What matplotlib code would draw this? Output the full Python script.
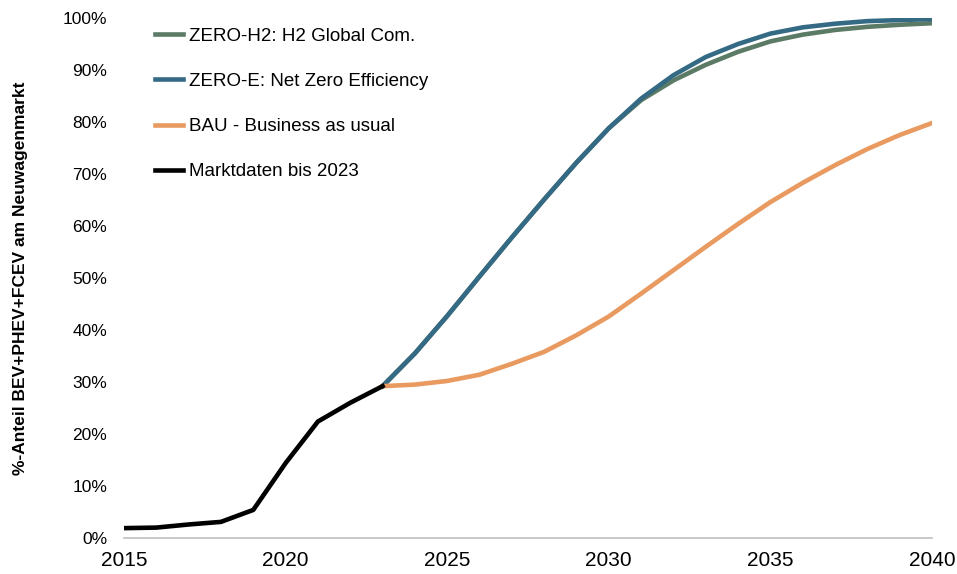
import matplotlib.pyplot as plt
from matplotlib.ticker import PercentFormatter

plt.rcParams['font.family'] = ['Liberation Sans', 'DejaVu Sans']

# Marktdaten (historisch)
years_hist = list(range(2015, 2024))
share_hist = [0.019, 0.020, 0.026, 0.031, 0.054, 0.144, 0.224, 0.260, 0.292]

# Szenarien ab 2023
years_scen = list(range(2023, 2041))
share_zero_e = [0.292, 0.355, 0.427, 0.503, 0.578, 0.651, 0.722, 0.788, 0.845,
                0.890, 0.925, 0.950, 0.970, 0.982, 0.989, 0.994, 0.996, 0.998]
share_zero_h2 = [0.292, 0.355, 0.427, 0.503, 0.578, 0.651, 0.722, 0.788, 0.842,
                 0.880, 0.910, 0.935, 0.955, 0.968, 0.977, 0.983, 0.987, 0.990]
share_bau = [0.292, 0.295, 0.302, 0.314, 0.335, 0.358, 0.390, 0.426, 0.470,
             0.515, 0.560, 0.604, 0.646, 0.683, 0.717, 0.748, 0.775, 0.798]

fig = plt.figure(figsize=(9.57, 5.74), dpi=100)
ax = fig.add_axes([124/957, 36/574, 808/957, 520/574])

ax.plot(years_scen, share_zero_h2, color='#5b7b66', lw=3.3, label='ZERO-H2: H2 Global Com.')
ax.plot(years_scen, share_zero_e, color='#356a85', lw=3.3, label='ZERO-E: Net Zero Efficiency')
ax.plot(years_scen, share_bau, color='#e99a60', lw=3.3, label='BAU - Business as usual')
ax.plot(years_hist, share_hist, color='black', lw=3.3, label='Marktdaten bis 2023')

ax.set_xlim(2015, 2040)
ax.set_ylim(0, 1)
ax.set_xticks(range(2015, 2041, 5))
ax.set_yticks([i / 10 for i in range(11)])
ax.yaxis.set_major_formatter(PercentFormatter(1.0, decimals=0))
ax.tick_params(axis='both', length=0)
ax.tick_params(axis='x', pad=9, labelsize=15)
ax.tick_params(axis='y', pad=12, labelsize=12.5)

for s in ['top', 'right', 'left']:
    ax.spines[s].set_visible(False)
ax.spines['bottom'].set_color('#bfbfbf')
ax.spines['bottom'].set_linewidth(1.2)

ax.set_ylabel('%-Anteil BEV+PHEV+FCEV am Neuwagenmarkt', fontsize=12.5,
              fontweight='bold', labelpad=25)

ax.legend(loc='upper left', bbox_to_anchor=(0.017, 1.014), frameon=False,
          fontsize=13.5, handlelength=1.5, handletextpad=0.35, labelspacing=1.5)

fig.savefig('out.png', dpi=100)
